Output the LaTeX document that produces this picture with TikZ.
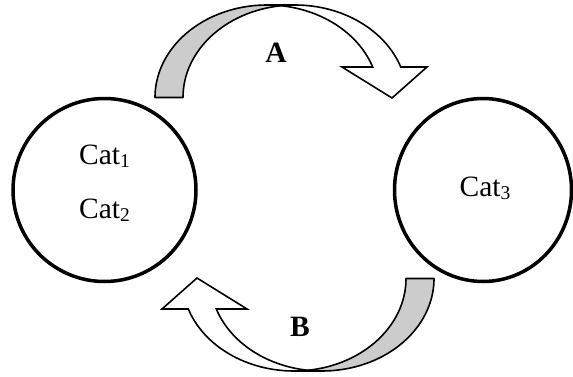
\documentclass[tikz,border=0pt]{standalone}
\usepackage{fontspec}
\setmainfont{Liberation Serif}
\usetikzlibrary{shapes.geometric}
\definecolor{bandgray}{RGB}{204,204,204}
\newcommand\lowsub[1]{\raisebox{-3.5pt}{\fontsize{19.5}{20}\selectfont #1}}
\tikzset{
  ring/.style={draw=black, line width=3.5pt, inner sep=0pt, fill=none},
  cattext/.style={font=\fontsize{29.5}{32}\selectfont, inner sep=0pt, anchor=base},
  lbl/.style={font=\fontsize{29.5}{32}\selectfont\bfseries, inner sep=0pt, anchor=base},
  backband/.style={draw=black, line width=1.6pt, fill=bandgray, line join=round},
  frontband/.style={draw=black, line width=1.6pt, fill=white, line join=miter},
  bentarrow/.pic={
    \begin{scope}[shift={(-294.5,-188)}]
      \path[backband] (155,278.5)
        arc[start angle=180, end angle=82.82, x radius=112pt, y radius=92.5pt]
        arc[start angle=97.18, end angle=180, x radius=112pt, y radius=92.5pt] -- cycle;
      \path[frontband] (267,371) -- (295,371)
        arc[start angle=90, end angle=19.25, x radius=112pt, y radius=92.5pt]
        -- (427,309) -- (392,278) -- (342,309) -- (372.7,309)
        arc[start angle=19.25, end angle=90, x radius=112pt, y radius=92.5pt] -- cycle;
    \end{scope}
  }
}
\begin{document}
\begin{tikzpicture}[x=1pt,y=1pt]
  \useasboundingbox (0,0) rectangle (573,376);
  \node[ring, circle, minimum size=183pt] (left) at (104.5,186) {};
  \node[ring, ellipse, minimum width=177pt, minimum height=183pt] (right) at (483,186) {};
  \node[cattext] (c1) at (104.5,212) {Cat\lowsub{1}};
  \node[cattext] (c2) at (104.5,158) {Cat\lowsub{2}};
  \node[cattext] (c3) at (485,180) {Cat\lowsub{3}};
  \pic (arrA) at (294.5,188) {bentarrow};
  \pic[rotate=180] (arrB) at (294.5,188) {bentarrow};
  \node[lbl] (la) at (276,314) {A};
  \node[lbl] (lb) at (300,40) {B};
\end{tikzpicture}
\end{document}
